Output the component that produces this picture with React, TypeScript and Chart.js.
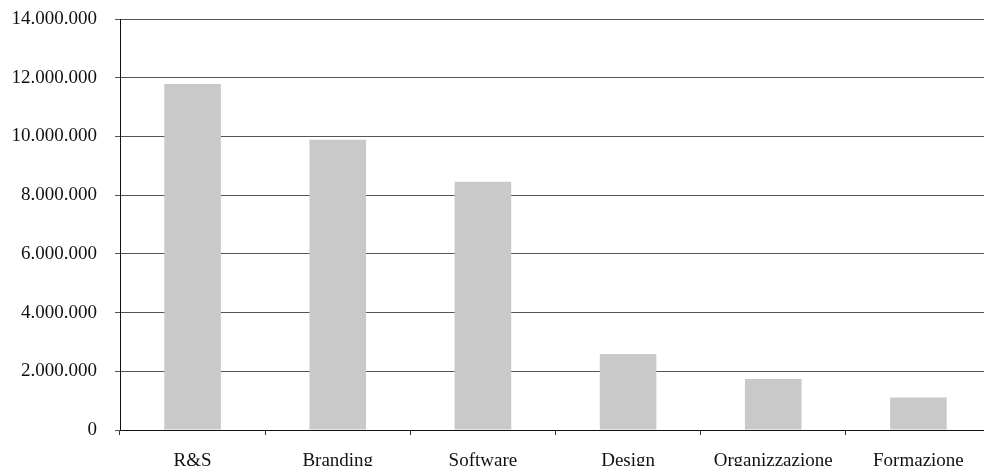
import React, { useEffect, useRef } from "react";
import { Chart, registerables } from "chart.js";

Chart.register(...registerables);

// Spending by area (euro)
const categories: string[] = ["R&S", "Branding", "Software", "Design", "Organizzazione", "Formazione"];
const amounts: number[] = [11790000, 9890000, 8460000, 2590000, 1740000, 1110000];
const yTicks: number[] = [0, 2000000, 4000000, 6000000, 8000000, 10000000, 12000000, 14000000];

const formatIt = (v: number): string =>
  Math.round(v).toString().replace(/\B(?=(\d{3})+(?!\d))/g, ".");

const FONT = { family: "'Liberation Serif', 'Times New Roman', serif", size: 19 };

export default function App() {
  const canvasRef = useRef<HTMLCanvasElement | null>(null);

  useEffect(() => {
    document.body.style.margin = "0";
    const canvas = canvasRef.current;
    if (!canvas) return;
    const chart = new Chart(canvas, {
      type: "bar",
      data: {
        labels: categories,
        datasets: [
          {
            data: amounts,
            backgroundColor: "#c8c9c8",
            borderWidth: 0,
            categoryPercentage: 1,
            barPercentage: 0.39,
          },
        ],
      },
      options: {
        animation: false,
        responsive: false,
        layout: { padding: { top: 19, left: 0, right: 0, bottom: 0 } },
        plugins: { legend: { display: false }, tooltip: { enabled: false } },
        scales: {
          x: {
            offset: true,
            grid: {
              display: true,
              drawOnChartArea: false,
              offset: true,
              tickLength: 5,
              color: "#333333",
              lineWidth: 1,
            },
            border: { display: true, color: "#111111", width: 1 },
            ticks: {
              color: "#111111",
              font: FONT,
              padding: 15,
              maxRotation: 0,
              autoSkip: false,
            },
            afterFit: (s: any) => {
              s.height = 36;
              s.paddingLeft = 0;
              s.paddingRight = 0;
            },
          },
          y: {
            min: 0,
            max: 14000000,
            afterBuildTicks: (s: any) => {
              s.ticks = yTicks.map((v) => ({ value: v }));
            },
            grid: {
              color: "#555555",
              lineWidth: 1,
              tickLength: 5,
            },
            border: { display: true, color: "#111111", width: 1 },
            ticks: {
              color: "#111111",
              font: FONT,
              padding: 18,
              callback: (v: any) => formatIt(Number(v)),
            },
            afterFit: (s: any) => {
              s.width = 120;
              s.paddingTop = 0;
              s.paddingBottom = 0;
            },
          },
        },
      },
    });
    return () => chart.destroy();
  }, []);

  return (
    <div style={{ width: 984, height: 466, overflow: "hidden", background: "#ffffff" }}>
      <canvas ref={canvasRef} width={991} height={466} style={{ display: "block" }} />
    </div>
  );
}
